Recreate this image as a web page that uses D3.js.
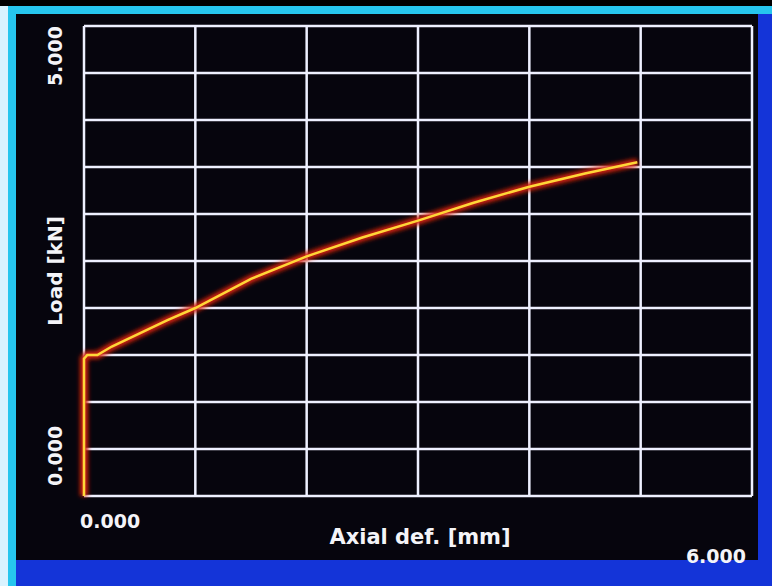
<!DOCTYPE html>
<html>
<head>
<meta charset="utf-8">
<script src="https://cdn.jsdelivr.net/npm/d3@7"></script>
<style>
  body { margin: 0; background: #000; }
  svg { display: block; }
  text { font-family: "DejaVu Sans", sans-serif; font-weight: bold; fill: #f4f4f8; }
</style>
</head>
<body>
<script>
// Load curve
var axialDef = [0, 0, 0.03, 0.12, 0.25, 0.5, 0.75, 1.0, 1.5, 2.0, 2.5, 3.0, 3.5, 4.0, 4.5, 4.97];
var loadKN   = [0, 1.46, 1.5, 1.5, 1.59, 1.73, 1.87, 2.0, 2.31, 2.55, 2.75, 2.93, 3.12, 3.29, 3.43, 3.55];

// Axis ranges and tick labels shown
var xDomain = [0, 6];
var yDomain = [0, 5];
var xLabels = ["0.000", "6.000"];
var yLabels = ["0.000", "5.000"];
var xTitle = "Axial def. [mm]";
var yTitle = "Load [kN]";

var width = 772, height = 586;
var margin = { left: 84, right: 20, top: 26, bottom: 90 };

var svg = d3.select("body").append("svg")
    .attr("width", width)
    .attr("height", height);

// glow under the trace
var defs = svg.append("defs");
defs.append("filter").attr("id", "glow")
    .attr("x", "-5%").attr("y", "-5%").attr("width", "110%").attr("height", "110%")
  .append("feGaussianBlur").attr("stdDeviation", 2);

// Screen frame: blue bezel, cyan edge, black panel
svg.append("rect").attr("width", width).attr("height", height).attr("fill", "#1434d8");
svg.append("rect").attr("x", 0).attr("y", 0).attr("width", width).attr("height", 6).attr("fill", "#000");
svg.append("rect").attr("x", 0).attr("y", 6).attr("width", width).attr("height", 8).attr("fill", "#26c6ee");
svg.append("rect").attr("x", 0).attr("y", 6).attr("width", 8).attr("height", height).attr("fill", "#d9f3ff");
svg.append("rect").attr("x", 8).attr("y", 6).attr("width", 8).attr("height", height).attr("fill", "#26c6ee");
svg.append("rect").attr("x", 16).attr("y", 14).attr("width", 742).attr("height", 546).attr("fill", "#06050d");

var x = d3.scaleLinear().domain(xDomain).range([margin.left, width - margin.right]);
var y = d3.scaleLinear().domain(yDomain).range([height - margin.bottom, margin.top]);

// Grid
var grid = svg.append("g").attr("stroke", "#eef0ff").attr("stroke-width", 2.5);
grid.selectAll(".vline")
    .data(x.ticks(6))
    .enter().append("line")
    .attr("class", "vline")
    .attr("x1", function(d) { return x(d); })
    .attr("x2", function(d) { return x(d); })
    .attr("y1", y(yDomain[0]))
    .attr("y2", y(yDomain[1]));
grid.selectAll(".hline")
    .data(y.ticks(10))
    .enter().append("line")
    .attr("class", "hline")
    .attr("x1", x(xDomain[0]))
    .attr("x2", x(xDomain[1]))
    .attr("y1", function(d) { return y(d); })
    .attr("y2", function(d) { return y(d); });

// Curve
var pts = axialDef.map(function(d, i) { return [d, loadKN[i]]; });
var line = d3.line()
    .x(function(d) { return x(d[0]); })
    .y(function(d) { return y(d[1]); });

svg.append("path").datum(pts)
    .attr("d", line)
    .attr("fill", "none")
    .attr("stroke", "#d0200a")
    .attr("stroke-width", 8)
    .attr("filter", "url(#glow)");
svg.append("path").datum(pts)
    .attr("d", line)
    .attr("fill", "none")
    .attr("stroke", "#ffd638")
    .attr("stroke-width", 2.5);

// Axis labels
svg.append("text")
    .attr("transform", "translate(62," + y(yDomain[1]) + ") rotate(-90)")
    .attr("text-anchor", "end")
    .attr("font-size", 19)
    .text(yLabels[1]);
svg.append("text")
    .attr("transform", "translate(62," + y(yDomain[0]) + ") rotate(-90)")
    .attr("text-anchor", "start")
    .attr("font-size", 19)
    .attr("dx", 10)
    .text(yLabels[0]);
svg.append("text")
    .attr("transform", "translate(62," + (y(2.5) + 10) + ") rotate(-90)")
    .attr("text-anchor", "middle")
    .attr("font-size", 20)
    .text(yTitle);

svg.append("text")
    .attr("x", x(xDomain[0]) - 4)
    .attr("y", y(0) + 32)
    .attr("font-size", 19)
    .text(xLabels[0]);
svg.append("text")
    .attr("x", (x(xDomain[0]) + x(xDomain[1])) / 2 + 2)
    .attr("y", y(0) + 48)
    .attr("text-anchor", "middle")
    .attr("font-size", 21)
    .text(xTitle);
svg.append("text")
    .attr("x", x(xDomain[1]) - 6)
    .attr("y", y(0) + 67)
    .attr("text-anchor", "end")
    .attr("font-size", 19)
    .text(xLabels[1]);
</script>
</body>
</html>
